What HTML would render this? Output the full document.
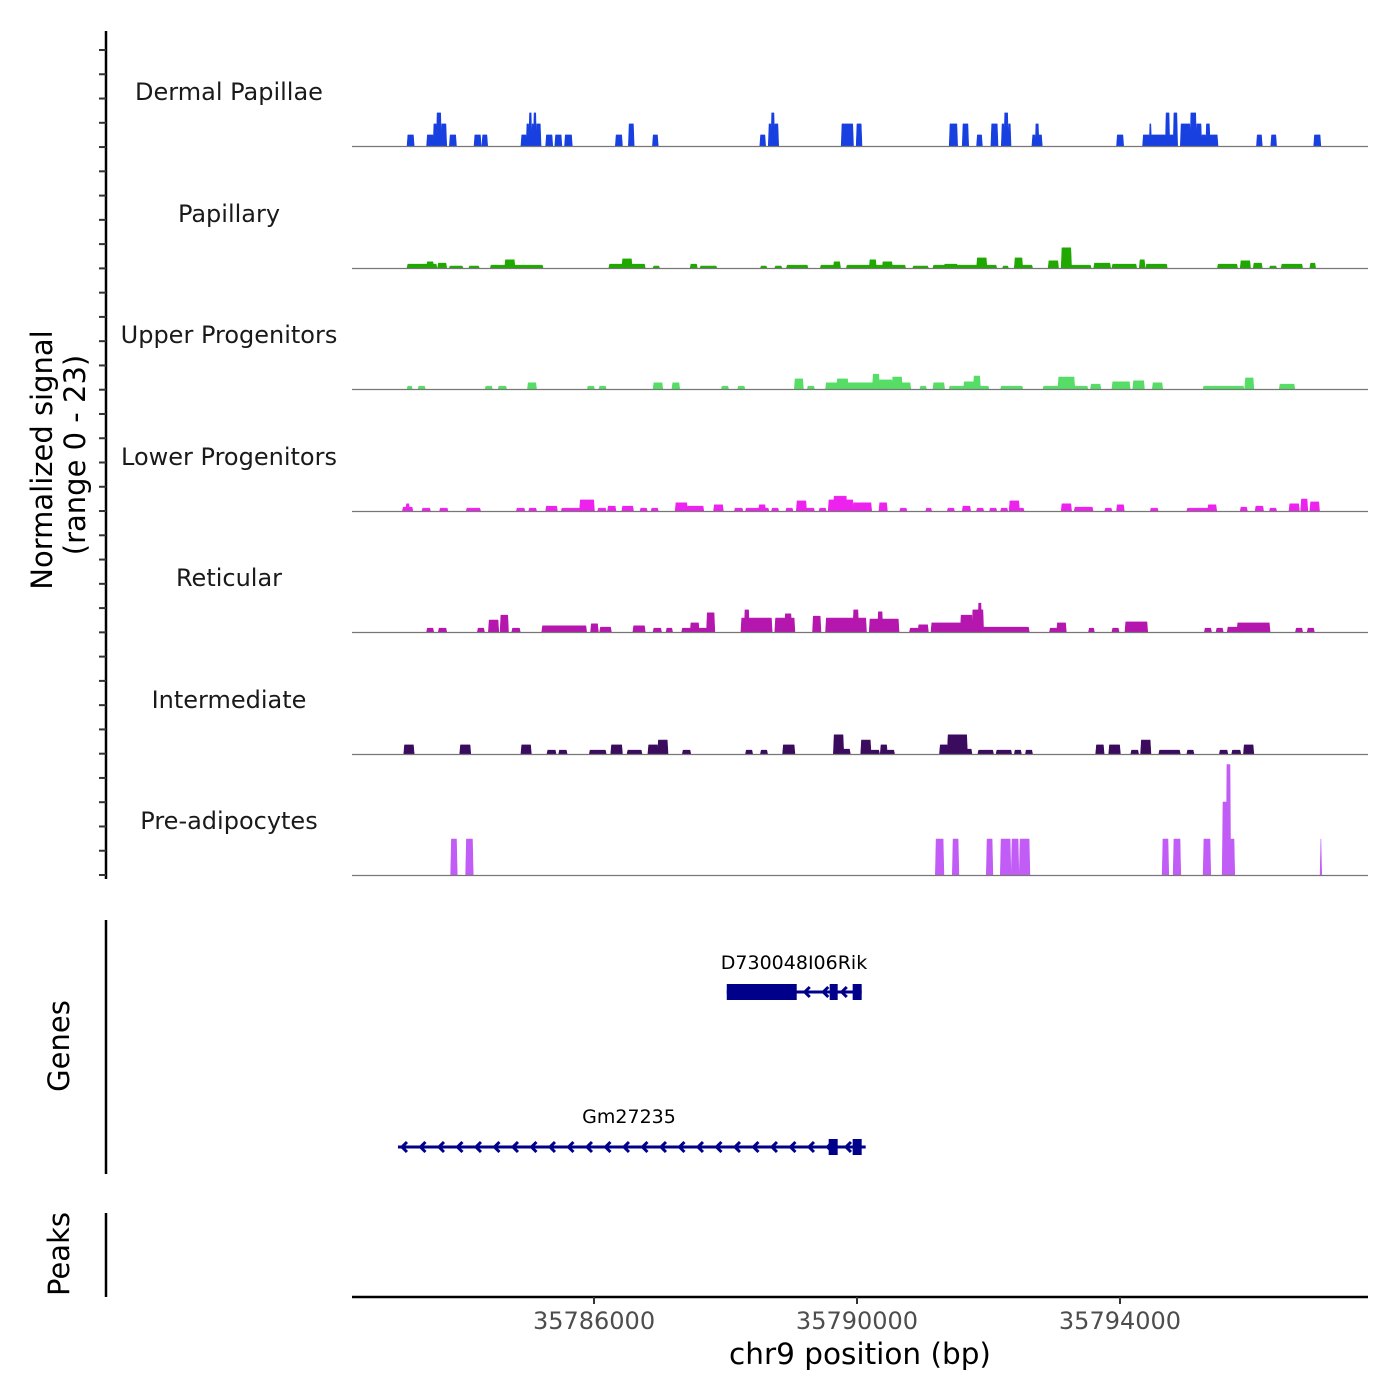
<!DOCTYPE html>
<html><head><meta charset="utf-8">
<style>
html,body{margin:0;padding:0;background:#fff;}
svg{display:block;font-family:"DejaVu Sans","Liberation Sans",sans-serif;}
</style></head>
<body>
<svg id="chart" width="1400" height="1400" viewBox="0 0 1400 1400" xmlns="http://www.w3.org/2000/svg">
<rect width="1400" height="1400" fill="#fff"/>
<g id="tracks"></g>
<g id="genes"></g>
<g id="axes"></g>
<text transform="translate(52,460) rotate(-90)" text-anchor="middle" font-size="29" fill="#000">Normalized signal</text>
<text transform="translate(85,455) rotate(-90)" text-anchor="middle" font-size="29" fill="#000">(range 0 - 23)</text>
<text transform="translate(69,1046) rotate(-90)" text-anchor="middle" font-size="29" fill="#000">Genes</text>
<text transform="translate(69,1254) rotate(-90)" text-anchor="middle" font-size="29" fill="#000">Peaks</text>
<text x="860" y="1364" text-anchor="middle" font-size="29.5" fill="#000">chr9 position (bp)</text>
</svg>
<script>
// region & scales
const regionStart = 35782319;
const regionEnd = 35797772;
const yMax = 23;
const xTicks = [35786000, 35790000, 35794000];
const trackNames = ["Dermal Papillae","Papillary","Upper Progenitors","Lower Progenitors","Reticular","Intermediate","Pre-adipocytes"];
const trackColors = ["#1840e0","#1fa800","#55dd66","#ee22ee","#b416ae","#3b0b5e","#c25cf6"];
// block data: offsets (bp from regionStart), values (normalized signal)
const dpStart=[842,1139,1238,1287,1356,1485,1861,1980,2574,2653,2693,2732,2762,2802,2950,3089,3237,4010,4208,4574,6207,6336,6376,6425,7445,7673,9088,9286,9504,9722,9880,9920,9979,10346,10395,10445,11633,12029,12128,12157,12375,12434,12494,12603,12751,12840,12920,12989,13048,13761,13979,14632];
const dpEnd=[941,1238,1287,1356,1436,1584,1960,2059,2653,2693,2732,2762,2802,2871,3049,3188,3346,4109,4287,4653,6287,6376,6425,6485,7623,7752,9207,9375,9583,9821,9920,9979,10019,10395,10445,10494,11732,12128,12157,12375,12434,12494,12553,12751,12840,12920,12989,13048,13167,13840,14058,14731];
const dpVal=[2.3,2.3,4.6,6.9,4.6,2.3,2.3,2.3,2.3,4.6,6.9,4.6,6.9,4.6,2.3,2.3,2.3,2.3,4.6,2.3,2.3,4.6,6.9,4.6,4.6,4.6,4.6,4.6,2.3,4.6,4.6,6.9,4.6,2.3,4.6,2.3,2.3,2.3,4.6,2.3,6.9,2.3,6.9,4.6,6.9,4.6,2.3,4.6,2.3,2.3,2.3,2.3];
const papStart=[842,1139,1307,1485,1782,2109,2327,3911,4109,4584,5148,5297,6217,6435,6613,7128,7326,7524,7871,8069,8534,8841,9504,9009,9900,10078,10078,10593,10791,10940,11286,11563,11979,12078,13167,13514,13712,13959,14137,14573];
const papEnd=[1287,1238,1436,1683,1931,2901,2475,4455,4257,4673,5247,5544,6306,6534,6930,7425,7425,8415,7970,8217,8762,9801,9653,9207,9979,10346,10197,10742,10940,11237,11534,11930,12058,12395,13464,13662,13840,14058,14454,14652];
const papVal=[0.8,1.3,1.0,0.4,0.4,0.6,1.7,0.8,1.9,0.4,0.8,0.4,0.4,0.4,0.6,0.6,1.3,0.6,1.7,1.3,0.4,0.6,2.1,0.8,0.4,0.6,2.1,1.5,4.2,0.6,1.0,0.8,1.7,0.8,0.8,1.5,1.0,0.4,0.8,1.0];
const upStart=[842,1010,2030,2228,2673,3584,3762,4584,4871,5623,5871,6732,6930,7207,7376,7920,8019,8217,8643,8841,9088,9306,9455,9870,10514,10742,11237,11563,11880,12177,12949,13583,14108];
const upEnd=[911,1109,2129,2346,2802,3683,3861,4722,4980,5722,5970,6861,7029,8494,7544,8019,8217,8366,8732,9009,9682,9455,9554,10197,11187,10989,11385,11831,12048,12326,13563,13712,14335];
const upVal=[0.6,0.6,0.6,0.6,1.3,0.6,0.6,1.3,1.3,0.6,0.6,2.1,0.6,1.3,2.1,3.1,1.9,2.5,0.6,1.3,0.6,1.5,2.7,0.6,0.6,2.5,1.0,1.5,1.7,1.3,0.6,2.3,1.0];
const lpStart=[772,822,1069,1337,1742,2505,2693,2950,3188,3465,3742,3891,4109,4386,4554,4920,5099,5504,5821,5990,6188,6386,6603,6762,6910,7108,7247,7326,7623,8019,8336,8732,9059,9286,9504,9702,9870,9999,10148,10791,10989,11454,11633,12147,12702,13019,13514,13741,13959,14256,14434,14573];
const lpEnd=[921,871,1188,1455,1950,2624,2802,3119,3683,3683,3861,4010,4277,4485,4653,5099,5346,5643,5940,6336,6287,6485,6702,6910,7029,7207,7623,7524,7900,8138,8435,8811,9158,9405,9603,9801,9969,10148,10217,10940,11266,11553,11741,12256,13147,13147,13613,13860,14058,14405,14533,14711];
const lpVal=[0.8,1.5,0.6,0.6,0.6,0.6,0.6,1.0,0.6,2.3,0.6,1.0,1.0,0.6,0.6,1.7,1.0,1.3,0.6,0.6,1.3,0.6,0.6,2.1,0.6,0.6,2.3,3.1,1.7,1.7,0.6,0.6,0.6,1.0,0.6,0.6,0.6,2.1,0.6,1.5,0.8,0.6,1.3,0.6,0.6,1.3,0.8,1.0,0.6,1.5,2.5,1.9];
const retStart=[1139,1317,1911,2079,2257,2435,2891,3633,3772,4277,4584,4782,5019,5148,5277,5396,5920,5970,6435,6584,7009,7207,7623,7871,7999,8484,8613,8811,9257,9435,9524,9603,10613,10722,11207,11563,11761,12969,13147,13316,13464,14355,14533];
const retEnd=[1238,1436,2010,2228,2376,2554,3564,3742,3940,4455,4703,4871,5148,5277,5396,5514,6386,6039,6732,6683,7128,7821,7702,8316,8069,8613,8762,9257,9435,9603,9573,10296,10722,10860,11286,11662,12098,13068,13246,13464,13959,14454,14632];
const retVal=[0.8,0.8,0.8,2.5,3.5,0.8,1.3,1.7,1.0,1.3,0.8,0.8,0.8,1.9,0.8,4.0,2.9,4.6,2.9,3.8,3.3,2.9,4.6,2.7,4.2,0.8,1.5,1.9,3.5,4.6,6.0,1.0,0.8,1.9,0.8,0.8,2.1,0.8,0.8,1.0,1.9,0.8,0.8];
const intStart=[792,1643,2574,2970,3148,3614,3940,4188,4505,4653,5029,5990,6217,6554,7326,7475,7742,7890,8039,8138,8940,9059,9356,9524,9801,10078,10247,11316,11514,11850,11999,12276,12702,13197,13385,13563];
const intEnd=[941,1802,2723,3099,3267,3861,4109,4406,4653,4802,5148,6089,6316,6732,7475,7574,7890,8019,8138,8247,9059,9356,9425,9752,10029,10177,10346,11435,11682,11959,12147,12593,12801,13316,13514,13712];
const intVal=[1.9,1.9,1.9,0.8,0.8,0.8,1.9,0.8,1.9,2.9,0.8,0.8,0.8,1.9,4.0,1.0,2.9,0.8,1.9,0.8,1.9,4.0,1.0,0.8,0.8,0.8,0.8,1.9,1.9,0.8,2.9,0.8,0.8,0.8,0.8,1.9];
const preStart=[1505,1733,8877,9135,9652,9865,10032,10154,12327,12494,12950,13240,13300,13361,14729];
const preEnd=[1596,1839,8998,9226,9743,10017,10138,10306,12418,12601,13057,13330,13361,13422,14744];
const preVal=[7.5,7.5,7.5,7.5,7.5,7.5,7.5,7.5,7.5,7.5,7.5,15.2,23,7.5,7.5];
// genes
const geneNames=["D730048I06Rik","Gm27235"];
const geneTxStart=[5700,699];
const geneTxEnd=[7752,7813];
const gene1ExonStart=[5700,7266,7615];
const gene1ExonEnd=[6764,7387,7752];
const gene2ExonStart=[7250,7615];
const gene2ExonEnd=[7387,7752];

const NS="http://www.w3.org/2000/svg";
const X0=352, X1=1368;
function xScale(bp){return X0+(bp-regionStart)/(regionEnd-regionStart)*(X1-X0);}
function xOff(o){return xScale(regionStart+o);}
const baselines=[146,268,389,511,632,754,875];
const pxPerUnit=110.4/yMax;
function yScale(v,ti){return baselines[ti]-v*pxPerUnit;}
function mk(tag,attrs,parent){const e=document.createElementNS(NS,tag);for(const k in attrs)e.setAttribute(k,attrs[k]);parent.appendChild(e);return e;}

const tracksG=document.getElementById('tracks');
const trackData=[[dpStart,dpEnd,dpVal],[papStart,papEnd,papVal],[upStart,upEnd,upVal],[lpStart,lpEnd,lpVal],[retStart,retEnd,retVal],[intStart,intEnd,intVal],[preStart,preEnd,preVal]];
const labelY=[92,214,335,457,578,700,821];
trackData.forEach((td,ti)=>{
  const g=mk('g',{},tracksG);
  
  
  const lab=mk('text',{x:229,y:labelY[ti]+8,'text-anchor':'middle','font-size':24,fill:'#1a1a1a'},g);
  lab.textContent=trackNames[ti];
  
  
  const [s,e,v]=td;
  const b=baselines[ti];
  for(let i=0;i<s.length;i++){
    const xa=xOff(s[i]), xb=xOff(e[i]);
    const yt=yScale(v[i],ti);
    const p=mk('polygon',{points:`${xa-0.3},${b} ${xa+0.5},${yt} ${xb-0.5},${yt} ${xb+0.3},${b}`,fill:trackColors[ti],stroke:trackColors[ti],'stroke-width':0.6,'stroke-linejoin':'round'},g);
    
    
  }
  const bl=mk('line',{x1:X0,x2:X1,y1:b+0.5,y2:b+0.5,stroke:'#777','stroke-width':1.2},g);
  
  
});

// genes
const genesG=document.getElementById('genes');
const geneY=[992,1147];
const geneLabelY=[969,1123];
const exonS=[gene1ExonStart,gene2ExonStart], exonE=[gene1ExonEnd,gene2ExonEnd];
const gc='#00008b';
geneNames.forEach((nm,gi)=>{
  const g=mk('g',{},genesG);
  
  
  const xa=xOff(geneTxStart[gi]), xb=xOff(geneTxEnd[gi]); const y=geneY[gi];
  mk('line',{x1:xa,x2:xb,y1:y,y2:y,stroke:gc,'stroke-width':3},g);
  for(let ax=xa+4;ax<xb-6;ax+=18.5){
    mk('polyline',{points:`${ax+5},${y-5} ${ax},${y} ${ax+5},${y+5}`,fill:'none',stroke:gc,'stroke-width':3},g);
  }
  for(let k=0;k<exonS[gi].length;k++){
    const ex=mk('rect',{x:xOff(exonS[gi][k]),y:y-8,width:xOff(exonE[gi][k])-xOff(exonS[gi][k]),height:16,fill:gc},g);
    
    
  }
  const t=mk('text',{x:(gi==0?794:629),y:geneLabelY[gi],'text-anchor':'middle','font-size':19,fill:'#000'},g);
  t.textContent=nm;
  
  
});

// axes
const axG=document.getElementById('axes');
const yl=mk('line',{x1:106,x2:106,y1:31,y2:879,stroke:'#000','stroke-width':2.5},axG);


for(let i=0;i<=34;i++){
  const ty=50+i*(825/34);
  const tk=mk('line',{x1:99,x2:106,y1:ty,y2:ty,stroke:'#333','stroke-width':2},axG);
  
  
}
const gl=mk('line',{x1:106,x2:106,y1:920,y2:1174,stroke:'#000','stroke-width':2.5},axG);


const pl=mk('line',{x1:106,x2:106,y1:1213,y2:1297,stroke:'#000','stroke-width':2.5},axG);


const xl=mk('line',{x1:X0,x2:X1,y1:1297,y2:1297,stroke:'#000','stroke-width':2.5},axG);


xTicks.forEach(v=>{
  const x=xScale(v);
  const tk=mk('line',{x1:x,x2:x,y1:1297,y2:1304,stroke:'#333','stroke-width':2},axG);
  
  
  const t=mk('text',{x:x,y:1329,'text-anchor':'middle','font-size':24,fill:'#4d4d4d'},axG);
  t.textContent=String(v);
  
  
});
</script>
</body></html>
